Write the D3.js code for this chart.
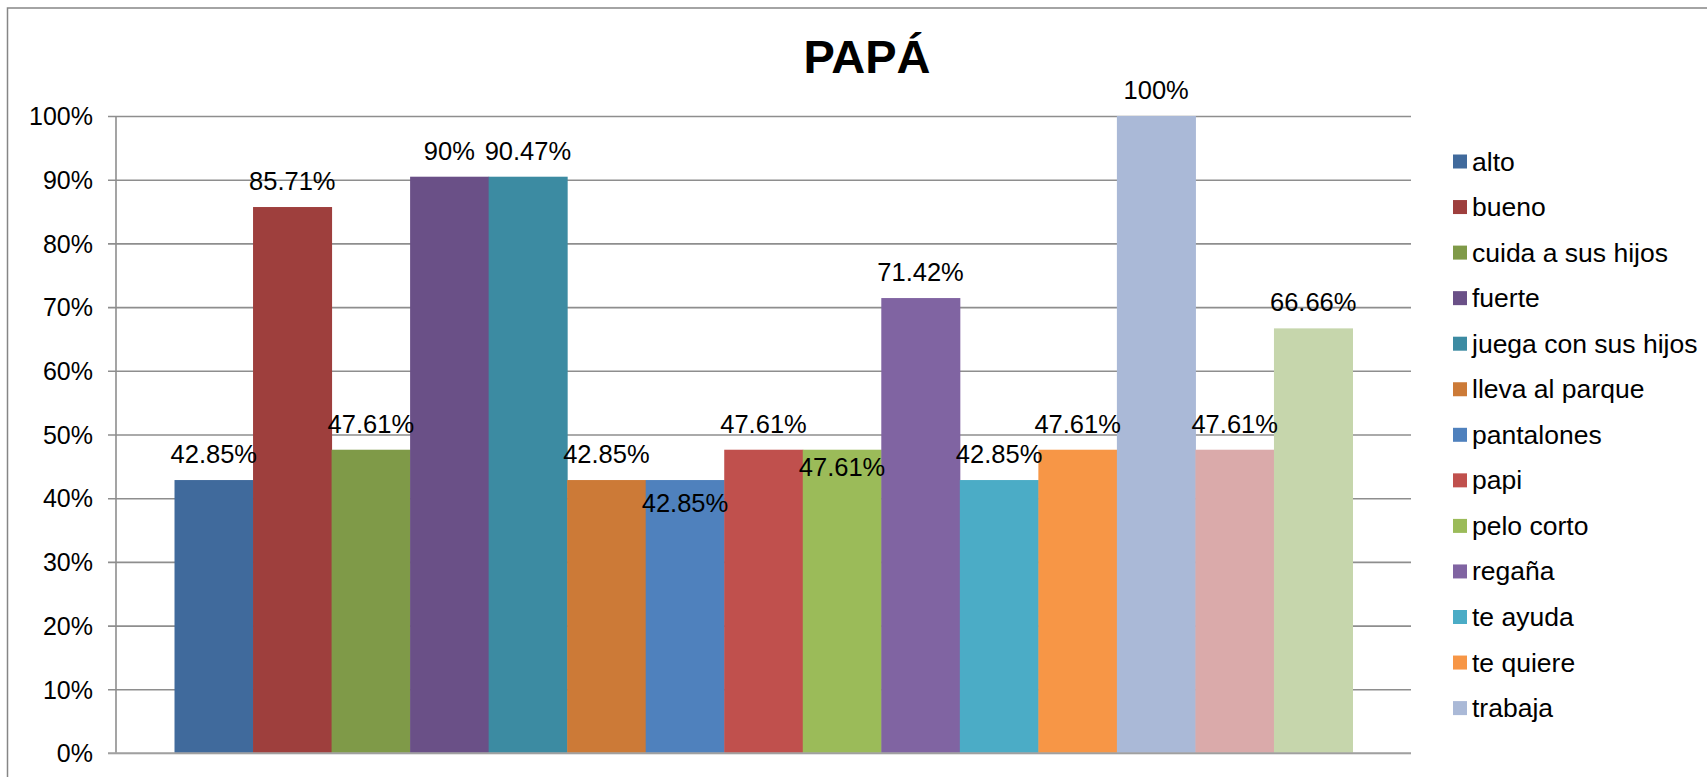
<!DOCTYPE html>
<html>
<head>
<meta charset="utf-8">
<script src="https://cdn.jsdelivr.net/npm/d3@7"></script>
<style>
  html, body { margin: 0; padding: 0; background: #fff; }
  svg { display: block; font-family: "Liberation Sans", Arial, sans-serif; }
</style>
</head>
<body>
<svg id="chart" width="1707" height="777"></svg>
<script>
// ---- data ----
const title = "PAPÁ";
const seriesNames = [
  "alto", "bueno", "cuida a sus hijos", "fuerte", "juega con sus hijos",
  "lleva al parque", "pantalones", "papi", "pelo corto", "regaña",
  "te ayuda", "te quiere", "trabaja", "serie 14", "serie 15"
];
const seriesValues = [
  0.4285, 0.8571, 0.4761, 0.9047, 0.9047,
  0.4285, 0.4285, 0.4761, 0.4761, 0.7142,
  0.4285, 0.4761, 1.00, 0.4761, 0.6666
];
const seriesLabels = [
  "42.85%", "85.71%", "47.61%", "90%", "90.47%",
  "42.85%", "42.85%", "47.61%", "47.61%", "71.42%",
  "42.85%", "47.61%", "100%", "47.61%", "66.66%"
];
const seriesColors = [
  "#406A9C", "#9E3F3D", "#7F9A48", "#6A5087", "#3C8BA2",
  "#CC7A37", "#4F81BD", "#C0504D", "#9BBB59", "#8064A2",
  "#4BACC6", "#F79646", "#AAB9D7", "#DAAAAA", "#C6D6AC"
];
const yTicks = [0, 0.1, 0.2, 0.3, 0.4, 0.5, 0.6, 0.7, 0.8, 0.9, 1.0];
const legendShown = 13; // Excel legend only had room for the first 13 entries

// ---- layout ----
const svg = d3.select("#chart");
const plot = { left: 116, right: 1411, top: 116, bottom: 753 };
// manual label nudges (px, downward) as placed in the original chart
const labelNudge = { "pantalones": 49, "pelo corto": 43 };

const data = seriesNames.map((n, i) => ({
  name: n, value: seriesValues[i], label: seriesLabels[i], color: seriesColors[i]
}));

const x = d3.scaleBand()
  .domain(seriesNames)
  .range([plot.left, plot.right])
  .paddingInner(0)
  .paddingOuter(0.745);

const y = d3.scaleLinear().domain([0, 1]).range([plot.bottom, plot.top]);

// chart border
svg.append("rect")
  .attr("x", 7.5).attr("y", 8)
  .attr("width", 1760).attr("height", 820)
  .attr("fill", "none").attr("stroke", "#868686").attr("stroke-width", 1.5);

// gridlines + y axis
const yAxis = d3.axisLeft(y)
  .tickValues(yTicks)
  .tickSize(-(plot.right - plot.left))
  .tickPadding(0)
  .tickFormat(d3.format(".0%"));

const gAxis = svg.append("g")
  .attr("transform", `translate(${plot.left},0)`)
  .call(yAxis);
gAxis.select(".domain").remove();
gAxis.selectAll(".tick line")
  .attr("x1", -8)
  .attr("stroke", "#8E8E8E").attr("stroke-width", 1.6);
gAxis.selectAll(".tick text")
  .attr("x", -23)
  .attr("dy", "0.35em")
  .attr("fill", "#000")
  .style("font-size", "25px")
  .style("font-family", "'Liberation Sans', Arial, sans-serif");

// vertical axis line
svg.append("line")
  .attr("x1", plot.left).attr("x2", plot.left)
  .attr("y1", plot.top).attr("y2", plot.bottom)
  .attr("stroke", "#8E8E8E").attr("stroke-width", 1.6);

// bars
svg.append("g").selectAll("rect")
  .data(data)
  .join("rect")
  .attr("x", d => x(d.name))
  .attr("width", x.bandwidth() + 0.5)
  .attr("y", d => y(d.value))
  .attr("height", d => y(0) - y(d.value))
  .attr("fill", d => d.color);

// baseline on top of bars
svg.append("line")
  .attr("x1", plot.left - 8).attr("x2", plot.right)
  .attr("y1", y(0)).attr("y2", y(0))
  .attr("stroke", "#A6A6A6").attr("stroke-width", 1.6);

// data labels
svg.append("g").selectAll("text")
  .data(data)
  .join("text")
  .attr("x", d => x(d.name) + x.bandwidth() / 2)
  .attr("y", d => y(d.value) - 17 + (labelNudge[d.name] || 0))
  .attr("text-anchor", "middle")
  .attr("fill", "#000")
  .style("font-size", "25.5px")
  .text(d => d.label);

// title
svg.append("text")
  .attr("x", 867).attr("y", 73)
  .attr("text-anchor", "middle")
  .attr("fill", "#000")
  .style("font-size", "47px")
  .style("font-weight", "bold")
  .text(title);

// legend
const legend = svg.append("g");
const legendItems = legend.selectAll("g")
  .data(data.slice(0, legendShown))
  .join("g")
  .attr("transform", (d, i) => `translate(1453, ${161.5 + i * 45.55})`);
legendItems.append("rect")
  .attr("x", 0).attr("y", -7)
  .attr("width", 14).attr("height", 14)
  .attr("fill", d => d.color);
legendItems.append("text")
  .attr("x", 19).attr("y", 9)
  .attr("fill", "#000")
  .style("font-size", "26.5px")
  .text(d => d.name);
</script>
</body>
</html>
